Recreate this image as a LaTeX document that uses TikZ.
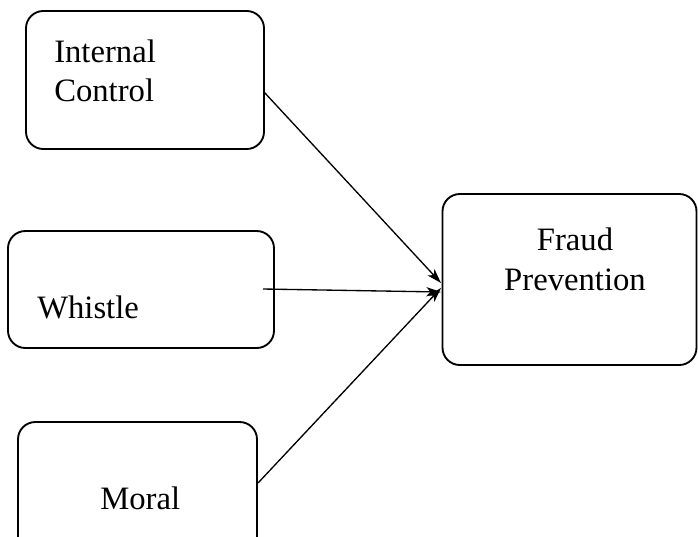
\documentclass[tikz,border=0pt]{standalone}
\usepackage{fontspec}
\setmainfont{Liberation Serif}
\usetikzlibrary{shapes, arrows.meta, positioning}

\begin{document}
\begin{tikzpicture}[
      x=0.75pt, y=-0.75pt,
      font=\fontsize{24.5}{29}\selectfont,
      box/.style={rectangle, draw, line width=1.4pt, rounded corners=13pt},
      txt/.style={inner sep=0pt, anchor=base west},
      arrow/.style={line width=1pt,-{Stealth[length=11pt,width=7pt,inset=3pt]}}
    ]
      \clip (0,0) rectangle (698,536);

      % boxes
      \node (internal) [box, minimum width=178.5pt, minimum height=103.5pt] at (145,80) {};
      \node (whistle) [box, minimum width=199.5pt, minimum height=87.75pt] at (141,289.5) {};
      \node (moral) [box, minimum width=179.25pt, minimum height=103.5pt] at (137.5,491) {};
      \node (fraud) [box, minimum width=190.5pt, minimum height=128.25pt] at (569.5,279.5) {};

      % texts
      \node (internaltxt) [txt] at (54,62) {Internal};
      \node (controltxt) [txt] at (54,101) {Control};
      \node (whistletxt) [txt] at (37,318) {Whistle};
      \node (moraltxt) [txt] at (100,509) {Moral};
      \node (fraudtxt) [txt, anchor=base] at (575,250) {Fraud};
      \node (preventiontxt) [txt, anchor=base] at (575,290) {Prevention};

      % arrow ends
      \coordinate (s1) at (264,92);
      \coordinate (s2) at (263,289);
      \coordinate (s3) at (258,483);
      \coordinate (t1) at (441,283);
      \coordinate (t2) at (441,292);
      \coordinate (t3) at (441,288);

      \draw [arrow] (s1) -- (t1);
      \draw [arrow] (s2) -- (t2);
      \draw [arrow] (s3) -- (t3);
    \end{tikzpicture}
\end{document}
